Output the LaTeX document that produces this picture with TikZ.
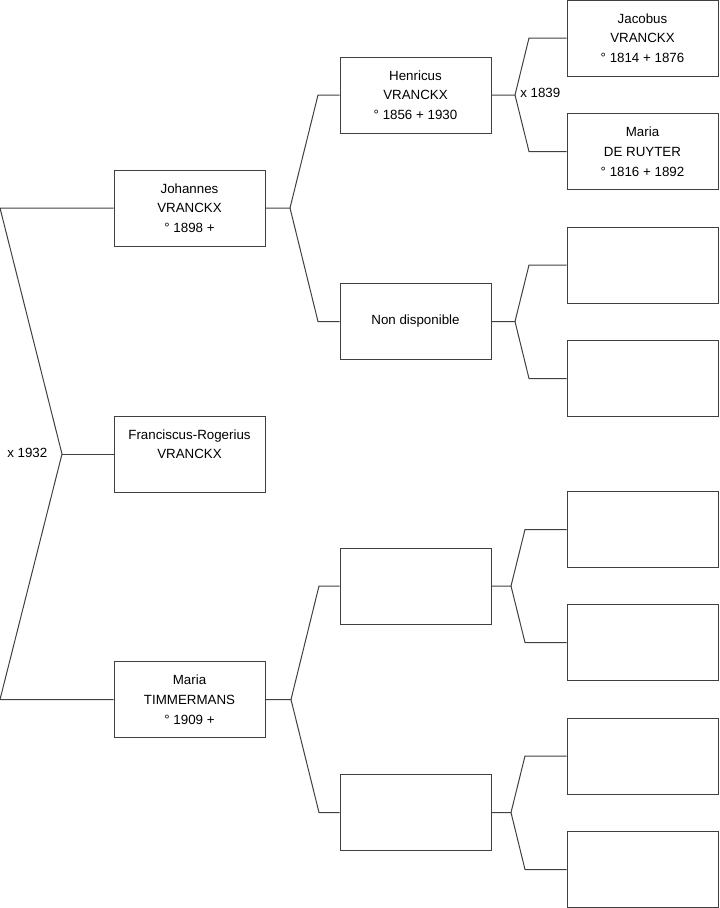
\documentclass[tikz,border=0pt]{standalone}
\usepackage{fontspec}
\setmainfont{Liberation Sans}
\begin{document}
\begin{tikzpicture}[x=0.75pt,y=-0.75pt,
  pbox/.style={draw=black!75, line width=0.75pt, fill=white, minimum width=113.25pt, minimum height=57pt, inner sep=0pt, align=center, font=\fontsize{10}{14.8}\selectfont},
  link/.style={draw=black!75, line width=0.75pt},
  lbl/.style={anchor=west, inner sep=0pt, font=\fontsize{10}{12}\selectfont}]
\useasboundingbox (0,0) rectangle (719,908);

% generation 1
\node[pbox] (jo) at (189.5,208) {Johannes\\VRANCKX\\° 1898 +};
\node[pbox] (fr) at (189.5,454) {Franciscus-Rogerius\\VRANCKX\\\phantom{0}};
\node[pbox] (mt) at (189.5,699.5) {Maria\\TIMMERMANS\\° 1909 +};

% generation 2
\node[pbox] (he) at (415.5,95) {Henricus\\VRANCKX\\° 1856 + 1930};
\node[pbox] (nd) at (415.5,321.5) {Non disponible};
\node[pbox] (g2c) at (415.5,586) {};
\node[pbox] (g2d) at (415.5,812.5) {};

% generation 3
\node[pbox] (ja) at (642.5,38) {Jacobus\\VRANCKX\\° 1814 + 1876};
\node[pbox] (md) at (642.5,151.5) {Maria\\DE RUYTER\\° 1816 + 1892};
\node[pbox] (g3c) at (642.5,265) {};
\node[pbox] (g3d) at (642.5,378.5) {};
\node[pbox] (g3e) at (642.5,529.5) {};
\node[pbox] (g3f) at (642.5,642.5) {};
\node[pbox] (g3g) at (642.5,756) {};
\node[pbox] (g3h) at (642.5,869.5) {};

% left bracket
\coordinate (l1) at (0,208);
\coordinate (l2) at (0,699.5);
\coordinate (la) at (62,454);
\draw[link] (jo.west) -- (l1) -- (la) -- (l2) -- (mt.west);
\draw[link] (la) -- (fr.west);
\node[lbl] (x1932) at (7,453) {x 1932};

% Johannes -> parents
\coordinate (f1) at (290,208);
\coordinate (e1a) at (318,95);
\coordinate (e1b) at (318,321.5);
\draw[link] (jo.east) -- (f1) -- (e1a) -- (he.west);
\draw[link] (f1) -- (e1b) -- (nd.west);

% Maria T -> parents
\coordinate (f2) at (291,699.5);
\coordinate (e2a) at (319,586);
\coordinate (e2b) at (319,812.5);
\draw[link] (mt.east) -- (f2) -- (e2a) -- (g2c.west);
\draw[link] (f2) -- (e2b) -- (g2d.west);

% Henricus -> parents
\coordinate (f3) at (515,95);
\coordinate (e3a) at (529,38);
\coordinate (e3b) at (529,151.5);
\draw[link] (he.east) -- (f3) -- (e3a) -- (ja.west);
\draw[link] (f3) -- (e3b) -- (md.west);
\node[lbl] (x1839) at (520,93) {x 1839};

% Non disponible -> parents
\coordinate (f4) at (515,321.5);
\coordinate (e4a) at (529,265);
\coordinate (e4b) at (529,378.5);
\draw[link] (nd.east) -- (f4) -- (e4a) -- (g3c.west);
\draw[link] (f4) -- (e4b) -- (g3d.west);

% lower gen2 boxes -> parents
\coordinate (f5) at (511,586);
\coordinate (e5a) at (525,529.5);
\coordinate (e5b) at (525,642.5);
\draw[link] (g2c.east) -- (f5) -- (e5a) -- (g3e.west);
\draw[link] (f5) -- (e5b) -- (g3f.west);

\coordinate (f6) at (511,812.5);
\coordinate (e6a) at (525,756);
\coordinate (e6b) at (525,869.5);
\draw[link] (g2d.east) -- (f6) -- (e6a) -- (g3g.west);
\draw[link] (f6) -- (e6b) -- (g3h.west);
\end{tikzpicture}
\end{document}
